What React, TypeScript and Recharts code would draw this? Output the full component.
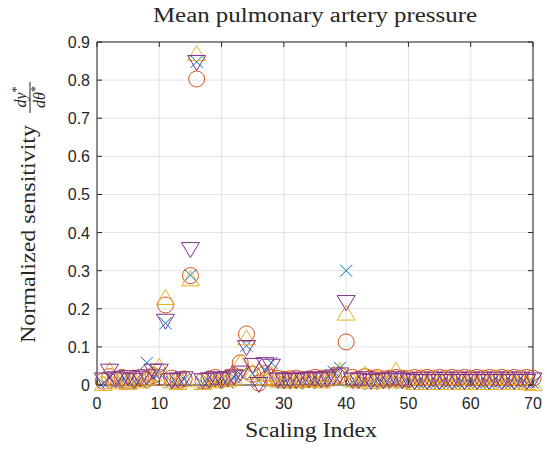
import React from 'react';
import {
  ScatterChart,
  Scatter,
  XAxis,
  YAxis,
  CartesianGrid,
  ReferenceLine,
} from 'recharts';

// scaling index (x) and normalized sensitivities for the four parameter sets
const scalingIndex = [
  1, 2, 3, 4, 5, 6, 7, 8, 9, 10,
  11, 12, 13, 14, 15, 16, 17, 18, 19, 20,
  21, 22, 23, 24, 25, 26, 27, 28, 29, 30,
  31, 32, 33, 34, 35, 36, 37, 38, 39, 40,
  41, 42, 43, 44, 45, 46, 47, 48, 49, 50,
  51, 52, 53, 54, 55, 56, 57, 58, 59, 60,
  61, 62, 63, 64, 65, 66, 67, 68, 69, 70,
];

const blueCross = [
  0.005, 0.02, 0.004, 0.012, 0.003, 0.01, 0.006, 0.058, 0.02, 0.03,
  0.162, 0.008, 0.006, 0.015, 0.288, 0.848, 0.004, 0.01, 0.005, 0.012,
  0.006, 0.02, 0.028, 0.103, 0.03, 0.01, 0.04, 0.058, 0.008, 0.005,
  0.006, 0.004, 0.008, 0.005, 0.01, 0.006, 0.012, 0.035, 0.045, 0.3,
  0.008, 0.004, 0.01, 0.003, 0.006, 0.004, 0.008, 0.01, 0.004, 0.006,
  0.004, 0.006, 0.003, 0.005, 0.004, 0.006, 0.003, 0.005, 0.004, 0.006,
  0.003, 0.005, 0.004, 0.006, 0.003, 0.005, 0.004, 0.006, 0.003, 0.005,
];

const orangeCircle = [
  0.01, 0.022, 0.015, 0.02, 0.012, 0.018, 0.02, 0.015, 0.025, 0.02,
  0.21, 0.018, 0.01, 0.016, 0.287, 0.803, 0.01, 0.016, 0.02, 0.015,
  0.018, 0.025, 0.058, 0.134, 0.028, 0.005, 0.03, 0.02, 0.018, 0.015,
  0.016, 0.018, 0.014, 0.016, 0.02, 0.018, 0.016, 0.02, 0.025, 0.113,
  0.02, 0.016, 0.022, 0.018, 0.02, 0.016, 0.018, 0.02, 0.018, 0.017,
  0.02, 0.018, 0.02, 0.018, 0.02, 0.018, 0.02, 0.018, 0.02, 0.018,
  0.02, 0.018, 0.02, 0.018, 0.02, 0.018, 0.02, 0.018, 0.02, 0.018,
];

const yellowUp = [
  0.005, 0.04, 0.01, 0.02, 0.008, 0.015, 0.012, 0.02, 0.03, 0.05,
  0.231, 0.012, 0.008, 0.015, 0.28, 0.871, 0.008, 0.015, 0.012, 0.018,
  0.015, 0.02, 0.06, 0.125, 0.035, 0.04, 0.02, 0.03, 0.015, 0.012,
  0.015, 0.012, 0.018, 0.014, 0.016, 0.012, 0.02, 0.03, 0.04, 0.19,
  0.015, 0.012, 0.03, 0.01, 0.02, 0.012, 0.015, 0.04, 0.012, 0.02,
  0.008, 0.02, 0.008, 0.02, 0.008, 0.02, 0.008, 0.02, 0.008, 0.02,
  0.008, 0.02, 0.008, 0.02, 0.008, 0.02, 0.008, 0.02, 0.008, 0.005,
];

const purpleDown = [
  0.012, 0.035, 0.015, 0.012, 0.018, 0.01, 0.015, 0.02, 0.035, 0.035,
  0.166, 0.01, 0.012, 0.015, 0.354, 0.845, 0.01, 0.012, 0.015, 0.012,
  0.015, 0.02, 0.03, 0.097, 0.05, 0.0, 0.052, 0.048, 0.012, 0.01,
  0.012, 0.01, 0.014, 0.012, 0.015, 0.012, 0.015, 0.02, 0.025, 0.215,
  0.012, 0.01, 0.015, 0.008, 0.012, 0.01, 0.012, 0.015, 0.01, 0.012,
  0.008, 0.014, 0.008, 0.014, 0.008, 0.014, 0.008, 0.014, 0.008, 0.014,
  0.008, 0.014, 0.008, 0.014, 0.008, 0.014, 0.008, 0.014, 0.008, 0.012,
];

const xTicks = [0, 10, 20, 30, 40, 50, 60, 70];
const yTicks = [0, 0.1, 0.2, 0.3, 0.4, 0.5, 0.6, 0.7, 0.8, 0.9];

const AXIS = '#262626';
const PLOT_W = 436;
const PLOT_H = 343;
const SERIF = '"Liberation Serif", "Times New Roman", serif';
const SANS = '"Liberation Sans", Arial, sans-serif';

const toRows = (values: number[]) =>
  scalingIndex.map((x, i) => ({ x, y: values[i] }));

const Cross = ({ cx, cy }: any) => (
  <g stroke="#0072BD" strokeWidth={1}>
    <line x1={cx - 6} y1={cy - 6} x2={cx + 6} y2={cy + 6} />
    <line x1={cx - 6} y1={cy + 6} x2={cx + 6} y2={cy - 6} />
  </g>
);

const Circle = ({ cx, cy }: any) => (
  <circle cx={cx} cy={cy} r={8} fill="none" stroke="#D95319" strokeWidth={1} />
);

const TriUp = ({ cx, cy }: any) => (
  <polygon
    points={`${cx},${cy - 7.5} ${cx + 9},${cy + 7.5} ${cx - 9},${cy + 7.5}`}
    fill="none"
    stroke="#EDB120"
    strokeWidth={1}
  />
);

const TriDown = ({ cx, cy }: any) => (
  <polygon
    points={`${cx - 9},${cy - 7.5} ${cx + 9},${cy - 7.5} ${cx},${cy + 7.5}`}
    fill="none"
    stroke="#7E2F8E"
    strokeWidth={1}
  />
);

const XTick = ({ x, y, payload }: any) => (
  <g>
    <line x1={x} x2={x} y1={y} y2={y - 5} stroke={AXIS} />
    <line x1={x} x2={x} y1={y - PLOT_H} y2={y - PLOT_H + 5} stroke={AXIS} />
    <text x={x} y={y + 24} textAnchor="middle" fontFamily={SANS} fontSize={16} fill={AXIS}>
      {payload.value}
    </text>
  </g>
);

const YTick = ({ x, y, payload }: any) => (
  <g>
    <line x1={x} x2={x + 5} y1={y} y2={y} stroke={AXIS} />
    <line x1={x + PLOT_W} x2={x + PLOT_W - 5} y1={y} y2={y} stroke={AXIS} />
    <text x={x - 7} y={y + 6} textAnchor="end" fontFamily={SANS} fontSize={16} fill={AXIS}>
      {payload.value}
    </text>
  </g>
);

const XLabel = () => (
  <text
    x={311}
    y={437}
    textAnchor="middle"
    fontFamily={SERIF}
    fontSize={20}
    fill={AXIS}
    textLength={132}
    lengthAdjust="spacingAndGlyphs"
  >
    Scaling Index
  </text>
);

const YLabel = () => (
  <g fill={AXIS} fontFamily={SERIF}>
    <text
      transform="translate(35,343) rotate(-90)"
      fontSize={20}
      textLength={218}
      lengthAdjust="spacingAndGlyphs"
    >
      Normalized sensitivity
    </text>
    <text transform="translate(26,97) rotate(-90)" textAnchor="middle" fontSize={16} fontStyle="italic">
      dy<tspan dy={-6} fontSize={12} fontStyle="normal">*</tspan>
    </text>
    <line x1={30} x2={30} y1={82} y2={113} stroke={AXIS} strokeWidth={1} />
    <text transform="translate(45,97) rotate(-90)" textAnchor="middle" fontSize={16} fontStyle="italic">
      dθ<tspan dy={-6} fontSize={12} fontStyle="normal">*</tspan>
    </text>
  </g>
);

export default function App() {
  return (
    <div style={{ position: 'absolute', left: 0, top: 0, width: 547, height: 450, background: '#fff' }}>
      <svg
        width={547}
        height={30}
        style={{ position: 'absolute', left: 0, top: 4, pointerEvents: 'none' }}
      >
        <text
          x={315}
          y={18}
          textAnchor="middle"
          fontFamily={SERIF}
          fontSize={20}
          fill={AXIS}
          textLength={324}
          lengthAdjust="spacingAndGlyphs"
        >
          Mean pulmonary artery pressure
        </text>
      </svg>
      <ScatterChart
        width={547}
        height={450}
        margin={{ top: 42, right: 14, bottom: 35, left: 57 }}
      >
        <CartesianGrid stroke="#e3e3e3" strokeWidth={1} />
        <XAxis
          dataKey="x"
          type="number"
          domain={[0, 70]}
          ticks={xTicks}
          height={30}
          tickSize={0}
          tickMargin={0}
          tickLine={false}
          axisLine={{ stroke: AXIS }}
          tick={<XTick />}
          label={{ content: () => <XLabel /> }}
          interval={0}
        />
        <YAxis
          dataKey="y"
          type="number"
          domain={[0, 0.9]}
          ticks={yTicks}
          width={40}
          tickSize={0}
          tickMargin={0}
          tickLine={false}
          axisLine={{ stroke: AXIS }}
          tick={<YTick />}
          label={{ content: () => <YLabel /> }}
          interval={0}
        />
        <ReferenceLine y={0.9} stroke={AXIS} />
        <ReferenceLine x={70} stroke={AXIS} />
        <Scatter data={toRows(blueCross)} shape={<Cross />} isAnimationActive={false} />
        <Scatter data={toRows(orangeCircle)} shape={<Circle />} isAnimationActive={false} />
        <Scatter data={toRows(yellowUp)} shape={<TriUp />} isAnimationActive={false} />
        <Scatter data={toRows(purpleDown)} shape={<TriDown />} isAnimationActive={false} />
      </ScatterChart>
    </div>
  );
}
